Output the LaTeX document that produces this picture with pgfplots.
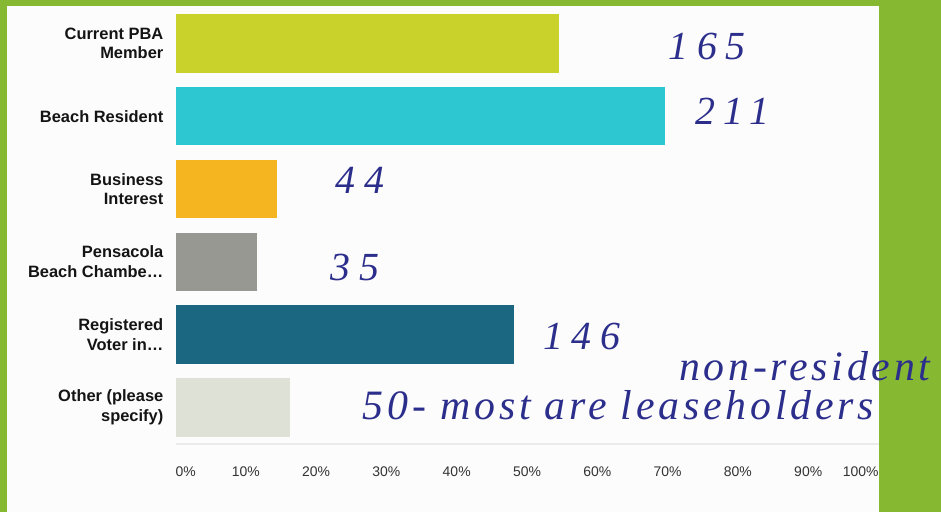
\documentclass[border=0pt]{standalone}
\usepackage{pgfplots}
\pgfplotsset{compat=1.18}
\usepackage{fontspec}
\setmainfont{Liberation Sans}
\newfontfamily\hand{Liberation Serif}[LetterSpace=22]
\newfontfamily\handtext{Liberation Serif}[LetterSpace=9]
\definecolor{bggreen}{RGB}{134,184,50}
\definecolor{cPBA}{RGB}{201,210,42}
\definecolor{cBeach}{RGB}{44,199,209}
\definecolor{cBiz}{RGB}{245,181,32}
\definecolor{cChamber}{RGB}{152,152,146}
\definecolor{cVoter}{RGB}{27,102,128}
\definecolor{cOther}{RGB}{221,225,214}
\definecolor{ink}{RGB}{44,46,140}
\begin{document}
\begin{tikzpicture}
\useasboundingbox (0,0) rectangle (941bp,-512bp);
\fill[bggreen] (0,0) rectangle (941bp,-512bp);
\fill[white!98!gray] (7bp,-6bp) rectangle (879bp,-512bp);
\begin{axis}[
  at={(175.5bp,-7bp)}, anchor=north west,
  scale only axis, width=703bp, height=436.8bp,
  xmin=0, xmax=100, ymin=-0.5, ymax=5.5, y dir=reverse,
  xbar, bar width=0.8, bar shift=0pt,
  clip=false,
  axis line style={draw=none},
  major tick length=0pt,
  xtick={0,10,20,30,40,50,60,70,80,90,100},
  xticklabels={\makebox[0pt][l]{0\%},10\%,20\%,30\%,40\%,50\%,60\%,70\%,80\%,90\%,\makebox[0pt][r]{100\%}},
  xticklabel style={font=\fontsize{14}{16}\selectfont, text=black!80, inner sep=0pt, anchor=north, yshift=-23bp},
  ytick={0,1,2,3,4,5},
  yticklabels={{Current PBA\\Member},{Beach Resident},{Business\\Interest},{Pensacola\\Beach Chambe\ldots},{Registered\\Voter in\ldots},{Other (please\\specify)}},
  yticklabel style={font=\fontsize{16.5}{19.5}\selectfont\bfseries, text=black!92, align=right, anchor=east, inner sep=0pt, xshift=-12bp},
]
\draw[black!8, line width=2bp] (axis cs:0,5.5) -- (axis cs:100,5.5);
\addplot[fill=cPBA, draw=none] coordinates {(54.5,0)};
\addplot[fill=cBeach, draw=none] coordinates {(69.6,1)};
\addplot[fill=cBiz, draw=none] coordinates {(14.5,2)};
\addplot[fill=cChamber, draw=none] coordinates {(11.6,3)};
\addplot[fill=cVoter, draw=none] coordinates {(48.2,4)};
\addplot[fill=cOther, draw=none] coordinates {(16.3,5)};
\node[text=ink, font=\hand\itshape\fontsize{40}{42}\selectfont] at (axis cs:75.6,0.04) {165};
\node[text=ink, font=\hand\itshape\fontsize{40}{42}\selectfont] at (axis cs:79.2,0.93) {211};
\node[text=ink, font=\hand\itshape\fontsize{40}{42}\selectfont] at (axis cs:26.2,1.88) {44};
\node[text=ink, font=\hand\itshape\fontsize{40}{42}\selectfont] at (axis cs:25.5,3.08) {35};
\node[text=ink, font=\hand\itshape\fontsize{40}{42}\selectfont] at (axis cs:57.8,4.02) {146};
\node[text=ink, font=\handtext\itshape\fontsize{42}{44}\selectfont] at (axis cs:89.5,4.44) {non-resident};
\node[text=ink, font=\handtext\itshape\fontsize{42}{44}\selectfont] at (axis cs:63.0,4.97) {50- most are leaseholders};
\end{axis}
\end{tikzpicture}
\end{document}
